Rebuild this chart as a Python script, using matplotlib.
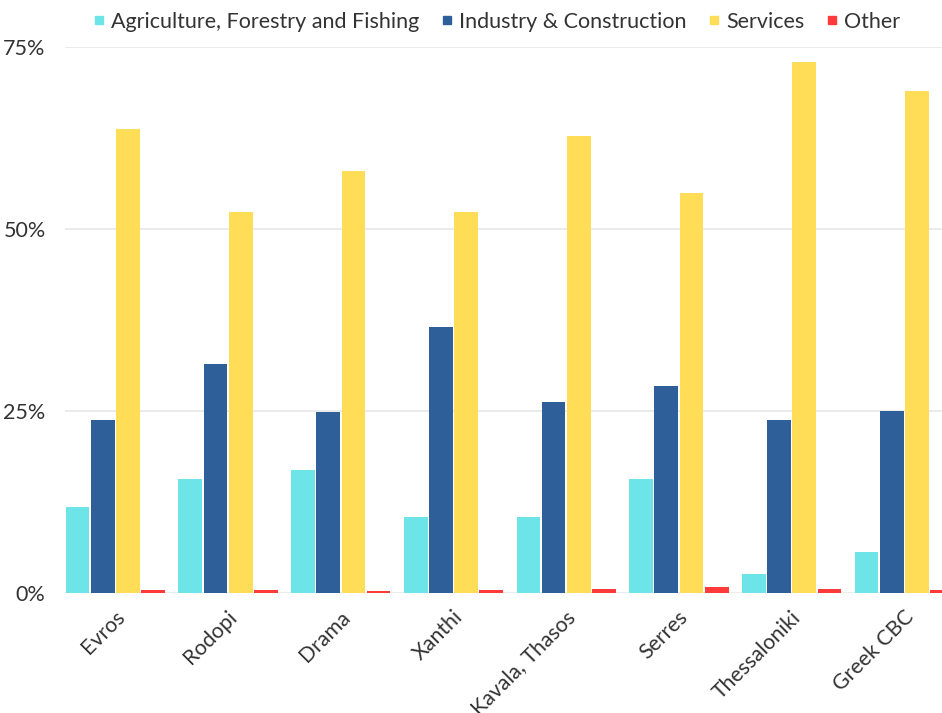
import numpy as np
import matplotlib
matplotlib.use("Agg")
import matplotlib.pyplot as plt
from matplotlib.transforms import ScaledTranslation
from matplotlib.lines import Line2D

plt.rcParams['font.family'] = ['Lato', 'DejaVu Sans']

regions = ["Evros", "Rodopi", "Drama", "Xanthi", "Kavala, Thasos",
           "Serres", "Thessaloniki", "Greek CBC"]
agriculture = [11.8, 15.7, 16.9, 10.5, 10.4, 15.6, 2.6, 5.6]
industry = [23.8, 31.4, 24.8, 36.6, 26.2, 28.4, 23.8, 25.0]
services = [63.8, 52.4, 58.0, 52.3, 62.8, 55.0, 73.0, 68.9]
other = [0.4, 0.4, 0.3, 0.4, 0.5, 0.8, 0.5, 0.4]

series_names = ["Agriculture, Forestry and Fishing", "Industry & Construction",
                "Services", "Other"]
series_values = [agriculture, industry, services, other]
colors = ["#6de5e8", "#2e5f98", "#ffdd57", "#ff3a3a"]
y_ticks = [0, 25, 50, 75]

W, H = 942, 713
fig = plt.figure(figsize=(W / 100, H / 100), dpi=100)
ax = fig.add_axes([65 / W, (H - 593) / H, 1 - 65 / W, (593 - 47) / H])

x = np.arange(len(regions))
pitch = 0.2237
bar_w = 0.210
for i, (vals, col) in enumerate(zip(series_values, colors)):
    ax.bar(x + (i - 1.5) * pitch, vals, width=bar_w, color=col,
           edgecolor=col, linewidth=0, zorder=3)

ax.set_xlim(-0.447, 7.334)
ax.set_ylim(0, 75)
ax.set_yticks(y_ticks)
ax.set_yticklabels([f"{v}%" for v in y_ticks], fontsize=15.5, color="#333333")
ax.tick_params(axis='y', length=0, pad=14)
ax.grid(axis='y', color="#e8e8e8", linewidth=1.2, zorder=0)
for s in ax.spines.values():
    s.set_visible(False)

ax.set_xticks(x)
ax.set_xticklabels(regions, rotation=45, ha='right', va='center',
                   rotation_mode='anchor', fontsize=15.3, color="#333333")
ax.tick_params(axis='x', length=0, pad=0)
offset = ScaledTranslation(6 / 100, -21 / 100, fig.dpi_scale_trans)
for lbl in ax.get_xticklabels():
    lbl.set_transform(lbl.get_transform() + offset)

handles = [Line2D([], [], marker='s', linestyle='none', markersize=6,
                  markerfacecolor=c, markeredgecolor=c) for c in colors]
fig.legend(handles, series_names, loc='center', bbox_to_anchor=(0.527, 1 - 22 / H),
           ncol=4, frameon=False, fontsize=15.5, handletextpad=0.25,
           columnspacing=1.0, handlelength=0.6, labelcolor="#333333")

fig.savefig("out.png", dpi=100, facecolor="white")
